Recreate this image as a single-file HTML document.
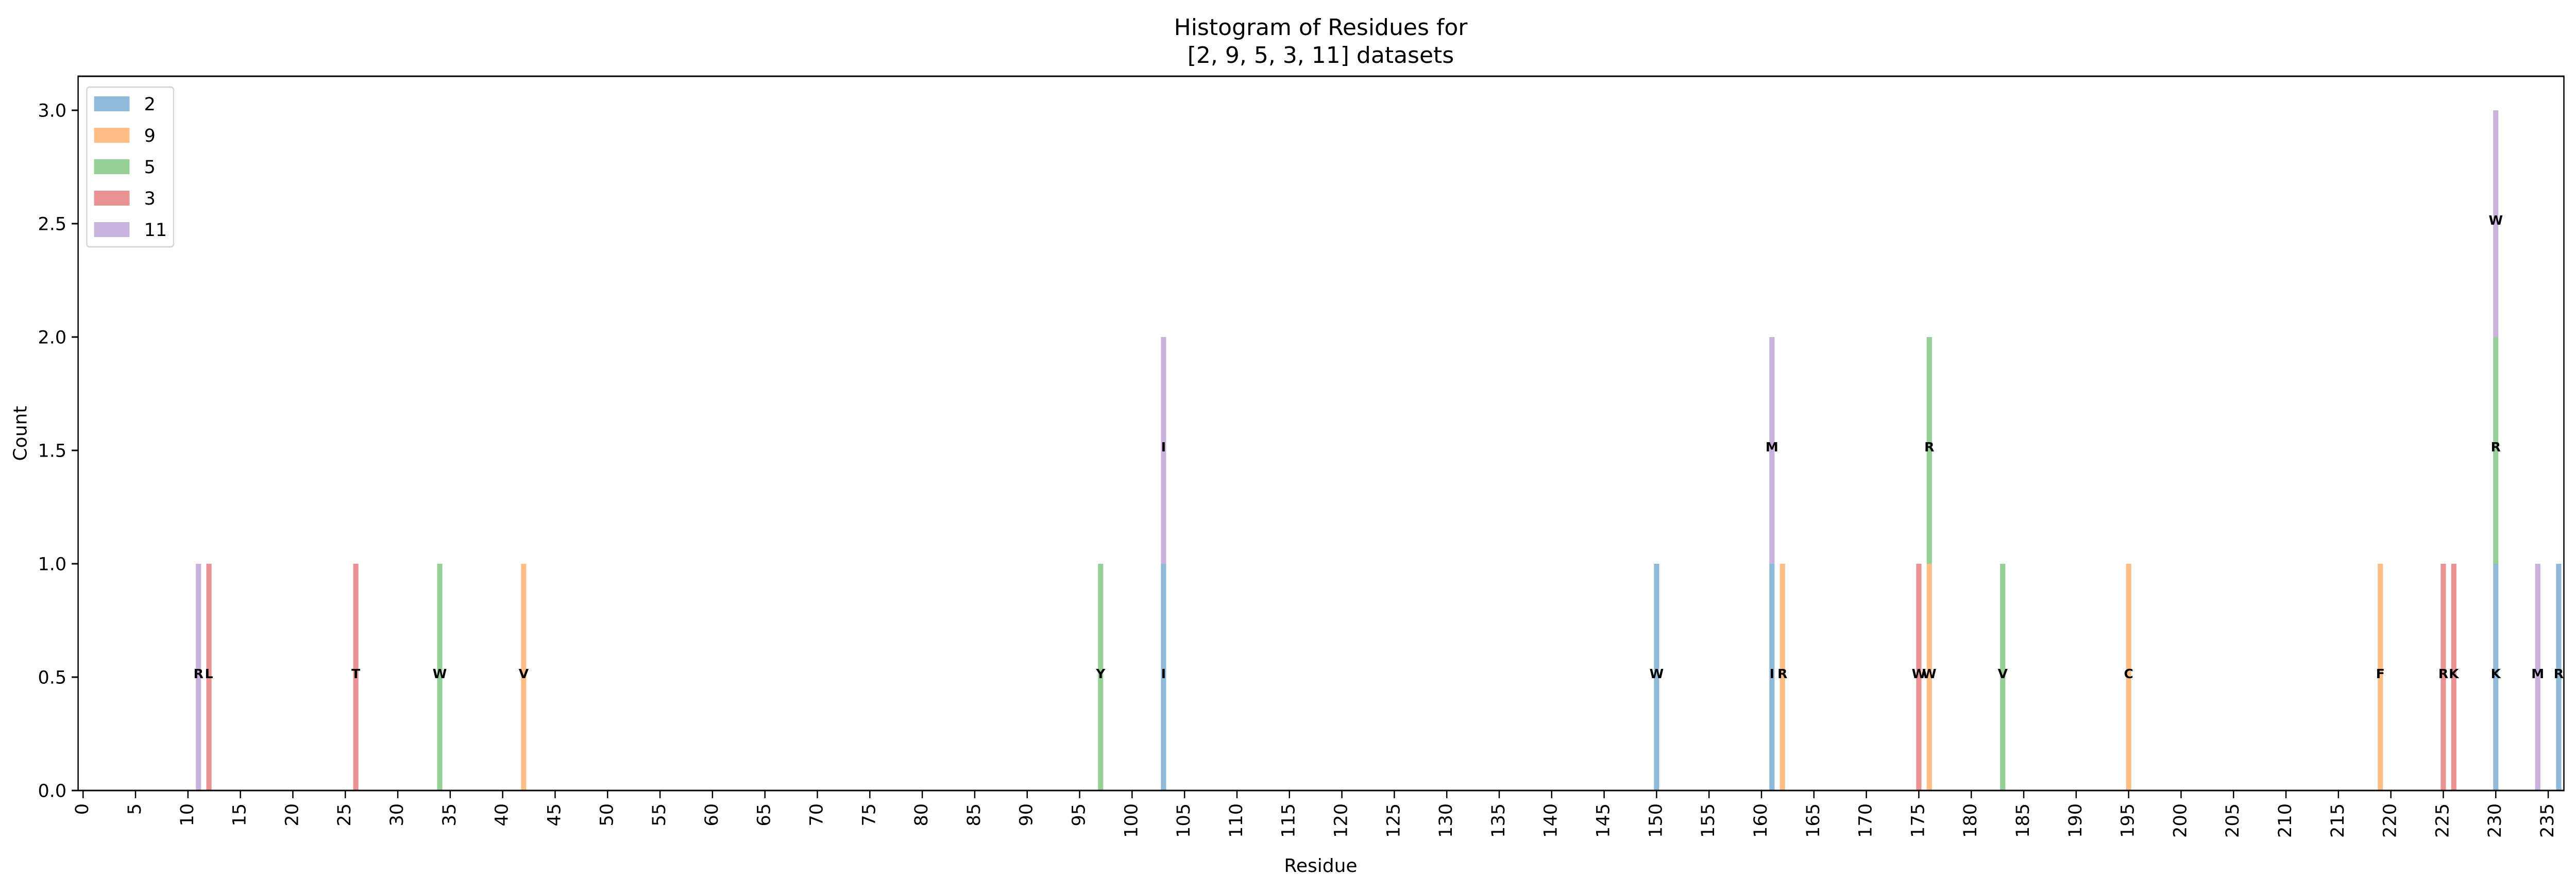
<!DOCTYPE html>
<html><head><meta charset="utf-8"><style>
html,body{margin:0;padding:0;background:#fff;width:100%;height:100%;overflow:hidden;}
svg{display:block;width:100vw;height:100vh;font-family:"DejaVu Sans","Liberation Sans",sans-serif;}
</style></head><body>
<svg id="chart" viewBox="0 0 6025 1729" preserveAspectRatio="none" xmlns="http://www.w3.org/2000/svg">
<rect x="0" y="0" width="6025" height="1729" fill="#fff"/>
<text x="3089" y="68" font-size="44" text-anchor="middle">Histogram of Residues for</text>
<text x="3089" y="122" font-size="44" text-anchor="middle"> [2, 9, 5, 3, 11] datasets</text>
<g id="bars"></g>
<g id="labels"></g>
<g id="axes"></g>
<text x="3089" y="1692" font-size="36" text-anchor="middle">Residue</text>
<text transform="translate(62,841) rotate(-90)" font-size="36" text-anchor="middle">Count</text>
<g id="legend"></g>
</svg>
<script>
const seriesNames = ["2","9","5","3","11"];
const seriesColors = ["#8fbad9","#ffbe86","#96d096","#ea9293","#c9b3de"];
const pos2 = [103,150,161,230,236];
const res2 = ["I","W","I","K","R"];
const pos9 = [42,162,176,195,219];
const res9 = ["V","R","W","C","F"];
const pos5 = [34,97,176,183,230];
const res5 = ["W","Y","R","V","R"];
const pos3 = [12,26,175,225,226];
const res3 = ["L","T","W","R","K"];
const pos11 = [11,103,161,230,234];
const res11 = ["R","I","M","W","M"];
const xTicks = [0,5,10,15,20,25,30,35,40,45,50,55,60,65,70,75,80,85,90,95,100,105,110,115,120,125,130,135,140,145,150,155,160,165,170,175,180,185,190,195,200,205,210,215,220,225,230,235];
const yTicks = [0,0.5,1,1.5,2,2.5,3];
const yTickLabels = ["0.0","0.5","1.0","1.5","2.0","2.5","3.0"];

const NS="http://www.w3.org/2000/svg";
const L=182.7,R=5996.7,T=148,B=1534;
function sx(v){return 194.3+v*24.535;}
function sy(v){return B-v*440;}
function mk(tag,parent){const e=document.createElementNS(NS,tag);parent.appendChild(e);return e;}
const bars=document.getElementById('bars'),labels=document.getElementById('labels'),axes=document.getElementById('axes'),legend=document.getElementById('legend');
const allPos=[pos2,pos9,pos5,pos3,pos11],allRes=[res2,res9,res5,res3,res11];
const stack={};
allPos.forEach((ps,si)=>{ps.forEach((p,i)=>{
  const base=stack[p]||0;stack[p]=base+1;
  const r=mk('rect',bars);
  
  
  r.setAttribute('x',sx(p-0.25));r.setAttribute('width',sx(p+0.25)-sx(p-0.25));
  r.setAttribute('y',sy(base+1));r.setAttribute('height',sy(base)-sy(base+1));
  r.setAttribute('fill',seriesColors[si]);
  const t=mk('text',labels);
  
  
  t.setAttribute('x',sx(p));t.setAttribute('y',sy(base+0.5)+2);
  t.setAttribute('font-size','25');t.setAttribute('font-weight','bold');t.setAttribute('text-anchor','middle');
  t.textContent=allRes[si][i];
});});
const frame=mk('rect',axes);


frame.setAttribute('x',L);frame.setAttribute('y',T);frame.setAttribute('width',R-L);frame.setAttribute('height',B-T);
frame.setAttribute('fill','none');frame.setAttribute('stroke','#000');frame.setAttribute('stroke-width','3');
xTicks.forEach(v=>{
  const l=mk('line',axes);
  
  
  l.setAttribute('x1',sx(v));l.setAttribute('x2',sx(v));l.setAttribute('y1',B);l.setAttribute('y2',B+15);l.setAttribute('stroke','#000');l.setAttribute('stroke-width','3');
  const t=mk('text',axes);
  
  
  t.setAttribute('transform','translate('+(sx(v)+12)+','+(B+25)+') rotate(-90)');
  t.setAttribute('font-size','35');t.setAttribute('text-anchor','end');
  t.textContent=v;
});
yTicks.forEach((v,i)=>{
  const l=mk('line',axes);
  
  
  l.setAttribute('x1',L-15);l.setAttribute('x2',L);l.setAttribute('y1',sy(v));l.setAttribute('y2',sy(v));l.setAttribute('stroke','#000');l.setAttribute('stroke-width','3');
  const t=mk('text',axes);
  
  
  t.setAttribute('x',L-27);t.setAttribute('y',sy(v)+12.5);t.setAttribute('font-size','35');t.setAttribute('text-anchor','end');
  t.textContent=yTickLabels[i];
});
const box=mk('rect',legend);


box.setAttribute('x',203);box.setAttribute('y',169);box.setAttribute('width',203);box.setAttribute('height',310);box.setAttribute('rx','6');
box.setAttribute('fill','#fff');box.setAttribute('fill-opacity','0.8');box.setAttribute('stroke','#d6d6d6');box.setAttribute('stroke-width','3');
seriesNames.forEach((n,i)=>{
  const y=187+i*61;
  const r=mk('rect',legend);
  
  
  r.setAttribute('x',220);r.setAttribute('y',y);r.setAttribute('width',83);r.setAttribute('height',29);r.setAttribute('fill',seriesColors[i]);
  const t=mk('text',legend);
  
  
  t.setAttribute('x',337);t.setAttribute('y',y+27);t.setAttribute('font-size','35');
  t.textContent=n;
});
// compensate non-uniform viewport scaling so glyphs keep their proportions
(function(){
  const w=window.innerWidth||6025,h=window.innerHeight||1729;
  const k=(w/6025)/(h/1729);
  if(!isFinite(k)||Math.abs(k-1)<0.005)return;
  const f=1/k;
  document.querySelectorAll('#chart text').forEach(t=>{
    const tr=t.getAttribute('transform');
    let ax;
    if(tr){const m=tr.match(/translate\(([-\d.]+)/);ax=m?parseFloat(m[1]):0;}
    else ax=parseFloat(t.getAttribute('x')||0);
    t.setAttribute('transform','translate('+ax+',0) scale('+f+',1) translate('+(-ax)+',0)'+(tr?' '+tr:''));
  });
})();
</script>
</body></html>
